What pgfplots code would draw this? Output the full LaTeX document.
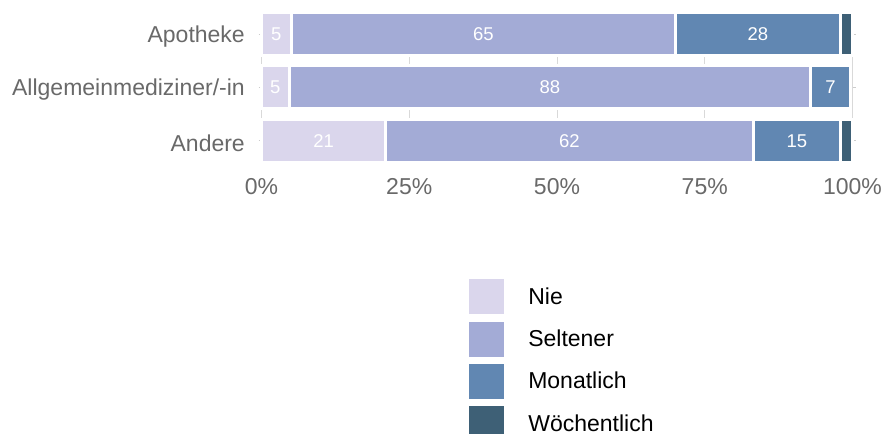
\documentclass[border=0pt]{standalone}
\usepackage{pgfplots}
\pgfplotsset{compat=1.18}
\usepackage{pgfplotstable}
\usepackage{fontspec}
\setmainfont{Liberation Sans}
\definecolor{cNie}{RGB}{218,214,236}
\definecolor{cSel}{RGB}{163,171,214}
\definecolor{cMon}{RGB}{97,135,178}
\definecolor{cWoe}{RGB}{62,96,118}
\definecolor{lab}{RGB}{105,105,105}

\pgfplotstableread{
y nie selt mon woe
2 5.0 65.1 27.8 2.1
1 4.7 88.2 6.8 0
0 21.0 62.2 14.8 2.0
}\data

\begin{document}
\begin{tikzpicture}
\path[use as bounding box] (0,0) rectangle (885bp,434bp);
\begin{axis}[
  at={(261.5bp,273.3bp)}, anchor=south west,
  scale only axis, width=591bp, height=146.7bp,
  xmin=0, xmax=100, ymin=-0.374, ymax=2.374,
  xbar stacked, bar width=43bp,
  clip=false,
  axis line style={draw=none},
  xtick={0,25,50,75,100}, xticklabels={0\%,25\%,50\%,75\%,100\%},
  ytick={0,1,2}, yticklabels={Andere,Allgemeinmediziner/-in,Apotheke},
  xmajorgrids, grid style={draw=gray!30, line width=0.8bp},
  xtick style={draw=none},
  ytick style={draw=gray!40, line width=0.8bp},
  tick align=outside, major tick length=3bp,
  tick label style={font=\fontsize{23bp}{27bp}\selectfont, text=lab, inner sep=0pt},
  xticklabel style={anchor=north, yshift=-15bp},
  yticklabel style={anchor=east, xshift=-13.5bp, yshift=-2.5bp},
  legend style={at={(0.3516,-0.808)}, anchor=north west, draw=none, fill=none,
    inner sep=0pt, outer sep=0pt, row sep=7.3bp, column sep=24bp,
    font=\fontsize{23bp}{27bp}\selectfont, nodes={inner sep=0pt}},
  legend cell align=left,
  legend image code/.code={\fill[#1,draw=none] (0bp,-17.5bp) rectangle (35bp,17.5bp);},
  lbl/.style={nodes near coords, point meta=explicit,
    nodes near coords align=center,
    every node near coord/.style={anchor=center, text=white, inner sep=0pt,
      font=\fontsize{18.5bp}{22bp}\selectfont,
      /pgf/number format/.cd, fixed, precision=0, assume math mode=true}},
]
\addplot[fill=cNie, draw=white, line width=3bp, lbl] table[x=nie,y=y,meta=nie]{\data};
\addlegendentry{Nie}
\addplot[fill=cSel, draw=white, line width=3bp, lbl] table[x=selt,y=y,meta=selt]{\data};
\addlegendentry{Seltener}
\addplot[fill=cMon, draw=white, line width=3bp, lbl] table[x=mon,y=y,meta=mon]{\data};
\addlegendentry{Monatlich}
\addplot[fill=cWoe, draw=white, line width=3bp] table[x=woe,y=y]{\data};
\addlegendentry{Wöchentlich}
\end{axis}
\end{tikzpicture}
\end{document}
